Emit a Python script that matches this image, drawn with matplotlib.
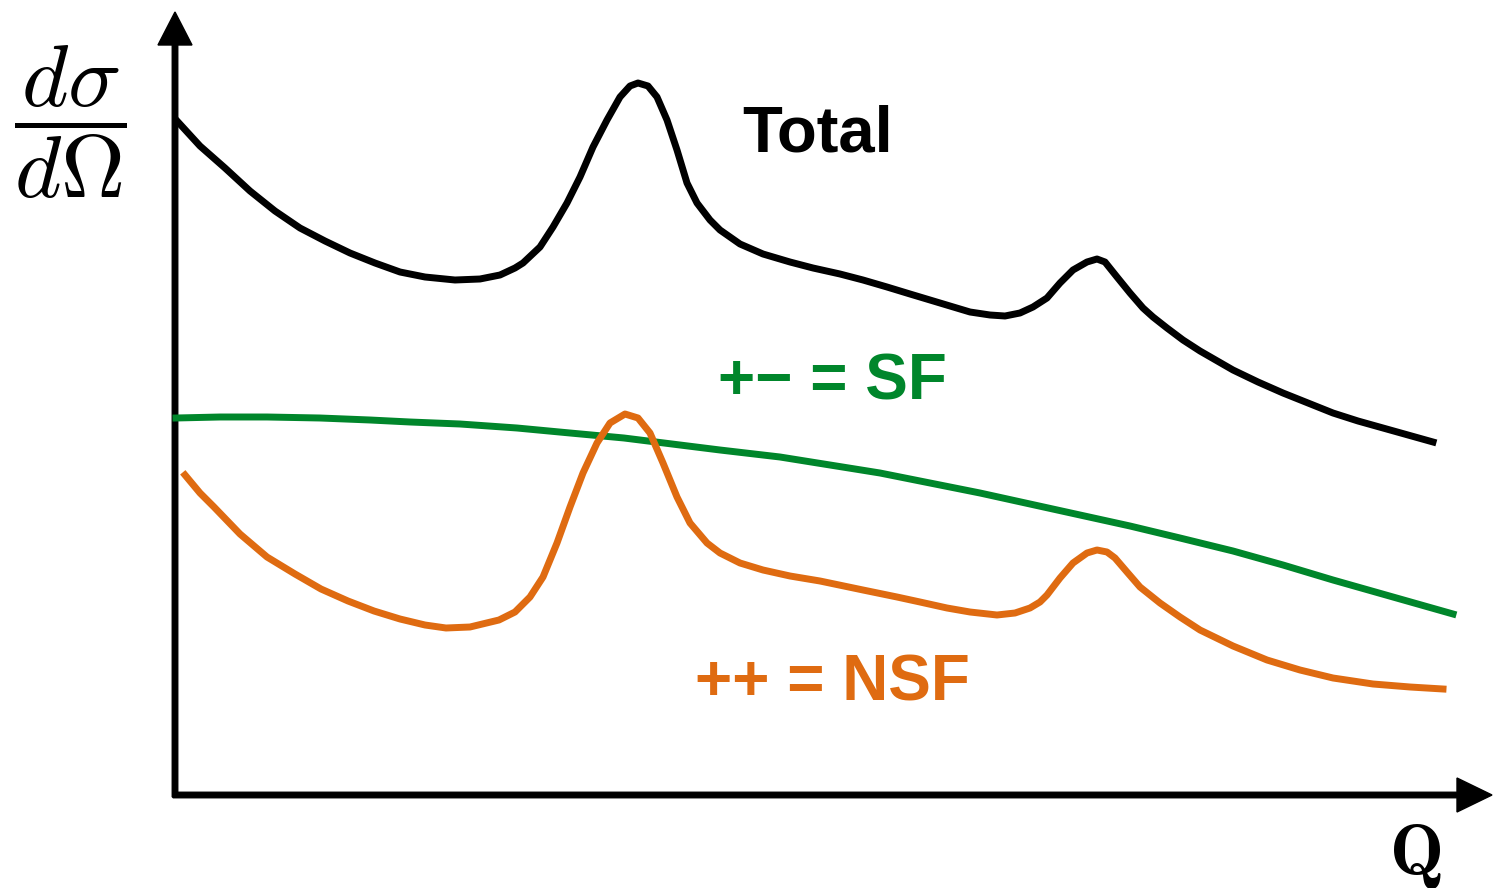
import matplotlib
matplotlib.use('Agg')
import matplotlib.pyplot as plt

plt.rcParams['mathtext.fontset'] = 'cm'

# schematic curves: q along the axis, intensity up (arbitrary units)
q_total = [3, 25, 50, 75, 100, 125, 150, 175, 200, 225, 250, 280, 305, 325, 340, 348,
           365, 378, 392, 405, 418, 432, 445, 455, 463, 473, 482, 492, 502, 512, 522,
           535, 545, 565, 588, 615, 638, 665, 688, 712, 735, 755, 775, 795, 815, 830,
           845, 858, 872, 885, 898, 912, 922, 930, 942, 955, 968, 978, 992, 1008, 1025,
           1058, 1083, 1108, 1133, 1158, 1183, 1208, 1233, 1258]
i_total = [673, 649, 627, 604, 584, 567, 554, 542, 532, 523, 518, 515, 516, 520, 527, 532,
           548, 568, 592, 618, 648, 675, 698, 709, 712, 709, 698, 675, 645, 612, 592,
           575, 565, 551, 541, 533, 527, 521, 515, 508, 501, 495, 489, 483, 480, 479,
           482, 488, 497, 512, 525, 533, 536, 533, 518, 502, 487, 478, 467, 455, 444,
           425, 413, 402, 392, 382, 374, 367, 360, 353]

q_sf = [1, 45, 92, 145, 195, 235, 285, 342, 395, 449, 505, 545, 605, 655, 705, 755,
        805, 855, 905, 955, 1005, 1058, 1108, 1158, 1218, 1278]
i_sf = [377, 378, 378, 377, 375, 373, 371, 367, 362, 357, 350, 345, 338, 330, 322, 312,
        302, 291, 280, 269, 257, 244, 230, 215, 198, 181]

q_nsf = [10, 25, 39, 65, 92, 120, 146, 173, 199, 225, 250, 271, 295, 324, 340, 355,
         368, 382, 395, 408, 422, 435, 450, 463, 475, 488, 502, 515, 532, 545, 565,
         588, 615, 645, 688, 722, 745, 772, 795, 822, 840, 855, 865, 872, 885, 898,
         912, 922, 932, 940, 952, 965, 985, 1005, 1025, 1058, 1092, 1125, 1158, 1198,
         1235, 1268]
i_nsf = [320, 302, 288, 261, 238, 221, 206, 194, 184, 176, 170, 167, 168, 175, 183, 198,
         218, 252, 288, 322, 352, 372, 381, 377, 362, 332, 298, 272, 252, 242, 232,
         225, 219, 214, 205, 198, 193, 187, 183, 180, 182, 187, 193, 200, 217, 232,
         242, 245, 243, 237, 223, 208, 192, 178, 165, 149, 135, 125, 117, 111,
         108, 106]

black = 'black'
green = '#00862b'
orange = '#df6b11'

fig = plt.figure(figsize=(15.03, 8.88), dpi=100)
ax = fig.add_axes([0, 0, 1, 1])
ax.set_xlim(-175, 1328)
ax.set_ylim(-93, 795)
ax.axis('off')

# axes with arrows
ax.arrow(-2, 0, 1319, 0, width=5.5, head_width=34, head_length=35,
         length_includes_head=True, color='black')
ax.arrow(0, -2, 0, 785, width=5.5, head_width=34, head_length=33,
         length_includes_head=True, color='black')

lw = 5
ax.plot(q_total, i_total, color=black, lw=lw, solid_joinstyle='round')
ax.plot(q_sf, i_sf, color=green, lw=lw, solid_joinstyle='round')
ax.plot(q_nsf, i_nsf, color=orange, lw=lw, solid_joinstyle='round')

lab = dict(family='Liberation Sans', weight='bold', ha='left', va='baseline')
ax.text(567, 643, 'Total', color=black, fontsize=47, **lab)
ax.text(543, 395, '+\u2212 = SF', color=green, fontsize=46, **lab)
ax.text(520, 95, '++ = NSF', color=orange, fontsize=46, **lab)

ax.text(-105, 673, r'$\dfrac{d\sigma}{d\Omega}$', fontsize=64, ha='center', va='center')
ax.text(1240, -27, r'$\mathbf{Q}$', fontsize=52, ha='center', va='top')

plt.savefig('out.png', dpi=100)
plt.close()
